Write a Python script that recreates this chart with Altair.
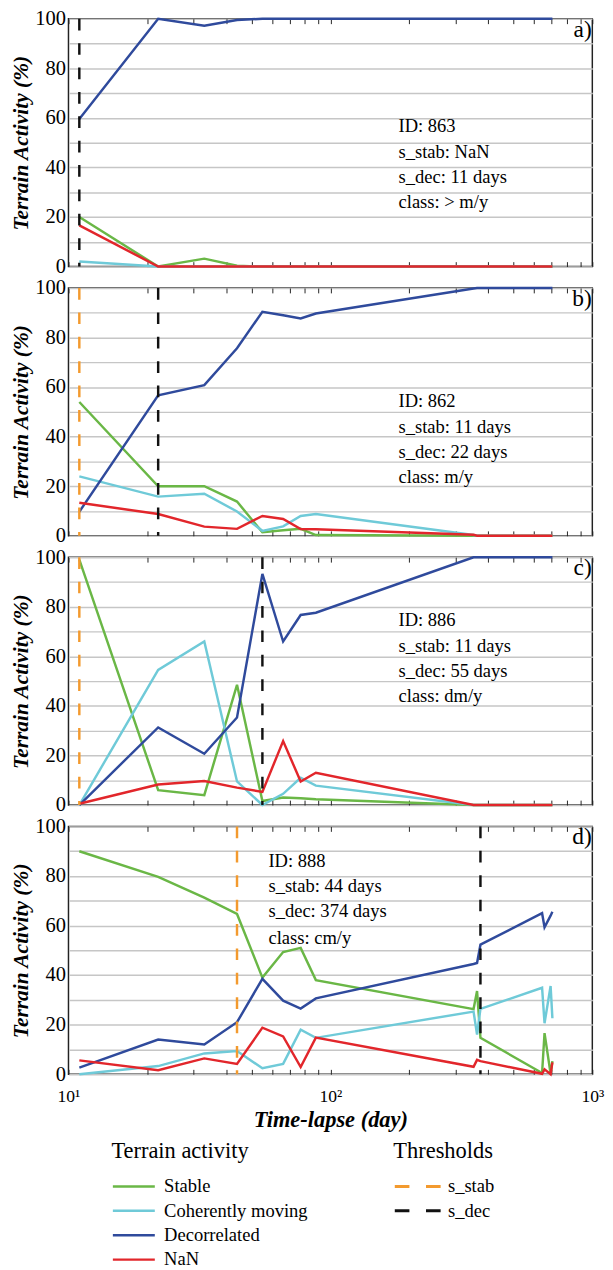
import altair as alt
import pandas as pd

FONT = "Liberation Serif"

# ---------------- data ----------------
days = [11, 22, 33, 44, 55, 66, 77, 88, 352, 363, 374, 643, 657, 693, 704]
categories = ["Stable", "Coherently moving", "Decorrelated", "NaN"]
category_colors = ["#6ab746", "#6fcad8", "#2f4a9c", "#e2262b"]

stable_a = [20.0, 0, 3.2, 0.3, 0, 0, 0, 0, 0, 0, 0, 0, 0, 0, 0]
coherent_a = [2.0, 0, 0, 0, 0, 0, 0, 0, 0, 0, 0, 0, 0, 0, 0]
decorrelated_a = [59.5, 100, 97.2, 99.5, 100, 100, 100, 100, 100, 100, 100, 100, 100, 100, 100]
nan_a = [16.6, 0, 0, 0, 0, 0, 0, 0, 0, 0, 0, 0, 0, 0, 0]

stable_b = [54.0, 20.0, 20.0, 13.8, 1.4, 2.2, 2.8, 0.3, 0, 0, 0, 0, 0, 0, 0]
coherent_b = [24.0, 15.8, 17.0, 9.8, 2.0, 3.8, 8.0, 8.8, 0.3, 0, 0, 0, 0, 0, 0]
decorrelated_b = [9.7, 56.7, 60.8, 75.7, 90.4, 89.0, 87.7, 89.7, 99.8, 100, 100, 100, 100, 100, 100]
nan_b = [13.3, 8.8, 3.7, 2.8, 8.0, 6.8, 2.7, 2.6, 0.4, 0, 0, 0, 0, 0, 0]

stable_c = [99.0, 6.0, 4.0, 48.5, 1.6, 3.0, 2.7, 2.3, 0, 0, 0, 0, 0, 0, 0]
coherent_c = [0, 54.5, 66.0, 9.5, 0, 4.5, 11.0, 7.8, 0, 0, 0, 0, 0, 0, 0]
decorrelated_c = [0, 31.3, 20.7, 35.3, 93.3, 66.0, 76.7, 77.6, 100, 100, 100, 100, 100, 100, 100]
nan_c = [0.5, 8.3, 9.7, 7.0, 5.3, 25.8, 9.5, 13.0, 0, 0, 0, 0, 0, 0, 0]

stable_d = [90.0, 79.7, 71.3, 64.7, 39.0, 49.3, 51.0, 38.0, 26.3, 33.6, 14.7, 0.5, 16.6, 0.2, 5.3]
coherent_d = [0, 3.3, 8.4, 9.4, 2.4, 4.2, 18.0, 14.7, 25.3, 16.0, 26.4, 34.9, 20.6, 35.6, 22.6]
decorrelated_d = [2.7, 14.0, 12.0, 21.0, 38.5, 29.7, 26.5, 30.6, 44.5, 44.9, 52.3, 65.0, 59.3, 64.0, 65.6]
nan_d = [5.6, 1.6, 6.4, 4.2, 18.8, 15.3, 2.9, 14.8, 3.0, 5.8, 5.3, 0.2, 2.0, 0, 4.8]

panel_series = [
    [stable_a, coherent_a, decorrelated_a, nan_a],
    [stable_b, coherent_b, decorrelated_b, nan_b],
    [stable_c, coherent_c, decorrelated_c, nan_c],
    [stable_d, coherent_d, decorrelated_d, nan_d],
]
panel_letters = ["a)", "b)", "c)", "d)"]

# thresholds (panel index, name, day)
threshold_names = ["s_stab", "s_dec"]
threshold_colors = ["#f39a2e", "#111111"]
thr_panel = [0, 1, 1, 2, 2, 3, 3]
thr_name = ["s_dec", "s_stab", "s_dec", "s_stab", "s_dec", "s_stab", "s_dec"]
thr_day = [11, 11, 22, 11, 55, 44, 374]

# annotation text blocks
ann_texts = [
    ["ID: 863", "s_stab: NaN", "s_dec: 11 days", "class: > m/y"],
    ["ID: 862", "s_stab: 11 days", "s_dec: 22 days", "class: m/y"],
    ["ID: 886", "s_stab: 11 days", "s_dec: 55 days", "class: dm/y"],
    ["ID: 888", "s_stab: 44 days", "s_dec: 374 days", "class: cm/y"],
]
ann_x = [182.0, 182.0, 182.0, 58.0]
ann_y = [
    [56.7, 46.0, 36.0, 26.0],
    [54.3, 44.0, 33.8, 23.8],
    [74.7, 64.0, 54.0, 44.0],
    [86.0, 76.0, 66.0, 55.0],
]
letter_x = 995
letter_y = 95.6

x_tick_values = [10, 20, 30, 40, 50, 60, 70, 80, 90, 100, 200, 300, 400, 500,
                 600, 700, 800, 900, 1000]
x_label_values = [10, 100, 1000]
x_label_texts = ["10¹", "10²", "10³"]
y_tick_values = [0, 10, 20, 30, 40, 50, 60, 70, 80, 90, 100]

# ---------------- chart ----------------
W, H = 537, 254

x_scale = alt.Scale(type="log", domain=[10, 1000], nice=False)
y_scale = alt.Scale(domain=[0, 100], nice=False)
color_scale = alt.Scale(domain=categories, range=category_colors)
thr_scale = alt.Scale(domain=threshold_names, range=threshold_colors)

label_expr = ""
for v, t in zip(x_label_values, x_label_texts):
    label_expr += f"datum.value == {v} ? '{t}' : "
label_expr += "''"

LEG_Y = 1150
terrain_legend = alt.Legend(
    title="Terrain activity", orient="none", legendX=44, legendY=LEG_Y,
    symbolType="stroke", symbolSize=1849, symbolStrokeWidth=2.5,
    clipHeight=20, rowPadding=5, titlePadding=14, labelOffset=8,
    titleFont=FONT, titleFontSize=23, titleFontWeight="normal",
    labelFont=FONT, labelFontSize=19, labelColor="black", titleColor="black",
    padding=0,
)
thr_legend = alt.Legend(
    title="Thresholds", orient="none", legendX=333, legendY=LEG_Y,
    symbolType="stroke", symbolSize=2209, symbolStrokeWidth=3,
    symbolDash=[15, 17], clipHeight=20, rowPadding=5, titlePadding=14,
    labelOffset=6, titleFont=FONT, titleFontSize=23, titleFontWeight="normal",
    labelFont=FONT, labelFontSize=19, labelColor="black", titleColor="black",
    padding=0,
)

y_axis = alt.Axis(
    values=y_tick_values, labelExpr="datum.value % 20 == 0 ? datum.label : ''",
    grid=True, tickSize=0, domain=False, labelPadding=3, labelFontSize=21,
    title="Terrain Activity (%)", titleFontStyle="italic",
    titleFontWeight="bold", titleFontSize=22, titlePadding=3,
)


def make_panel(i):
    last = i == 3
    if last:
        bottom_axis = alt.Axis(
            orient="bottom", values=x_tick_values, offset=-5, tickSize=5,
            domain=False, grid=False, labelExpr=label_expr, labelFlush=False,
            labelOverlap=False, labelPadding=14, labelFontSize=18,
            title="Time-lapse (day)", titleFontStyle="italic",
            titleFontWeight="bold", titleFontSize=23, titlePadding=4,
        )
    else:
        bottom_axis = alt.Axis(
            orient="bottom", values=x_tick_values, offset=-5, tickSize=5,
            domain=False, grid=False, labels=False, title=None,
        )
    top_axis = alt.Axis(
        orient="top", values=x_tick_values, offset=-5, tickSize=5,
        domain=False, grid=False, labels=False, title=None,
    )

    layers = []
    for k, (cat, vals) in enumerate(zip(categories, panel_series[i])):
        df = pd.DataFrame({"day": days, "value": vals, "category": cat})
        layers.append(
            alt.Chart(df).mark_line(strokeWidth=2.5).encode(
                x=alt.X("day:Q", scale=x_scale,
                        axis=bottom_axis if k == 0 else None),
                y=alt.Y("value:Q", scale=y_scale, axis=y_axis),
                color=alt.Color("category:N", scale=color_scale,
                                legend=terrain_legend),
            )
        )

    tdf = pd.DataFrame({
        "day": [d for p, d in zip(thr_panel, thr_day) if p == i],
        "threshold": [n for p, n in zip(thr_panel, thr_name) if p == i],
    })
    rules = alt.Chart(tdf).mark_rule(strokeDash=[12, 13], strokeWidth=2.5).encode(
        x=alt.X("day:Q", scale=x_scale, axis=top_axis),
        stroke=alt.Stroke("threshold:N", scale=thr_scale, legend=thr_legend),
    )

    adf = pd.DataFrame({"day": [ann_x[i]] * 4, "value": ann_y[i], "text": ann_texts[i]})
    ann = alt.Chart(adf).mark_text(
        align="left", baseline="middle", font=FONT, fontSize=19, color="black"
    ).encode(
        x=alt.X("day:Q", scale=x_scale, axis=None),
        y=alt.Y("value:Q", scale=y_scale, axis=y_axis),
        text="text:N",
    )

    ldf = pd.DataFrame({"day": [letter_x], "value": [letter_y], "text": [panel_letters[i]]})
    letter = alt.Chart(ldf).mark_text(
        align="right", baseline="middle", font=FONT, fontSize=24, color="black"
    ).encode(
        x=alt.X("day:Q", scale=x_scale, axis=None),
        y=alt.Y("value:Q", scale=y_scale, axis=y_axis),
        text="text:N",
    )

    return alt.layer(*layers, rules, ann, letter).resolve_axis(
        x="independent"
    ).properties(width=W, height=H)


chart = alt.vconcat(*[make_panel(i) for i in range(4)], spacing=-1).properties(
    padding={"left": 0, "top": -17, "right": 0, "bottom": 0}
).configure_view(
    stroke="#222222", strokeWidth=1.5
).configure_axis(
    labelFont=FONT, titleFont=FONT, labelColor="black", titleColor="black",
    tickColor="#222222", tickWidth=1, gridColor="#c6c6c6", gridWidth=1.5,
)

chart.save("out.html", embed_options={"renderer": "svg", "actions": False})
